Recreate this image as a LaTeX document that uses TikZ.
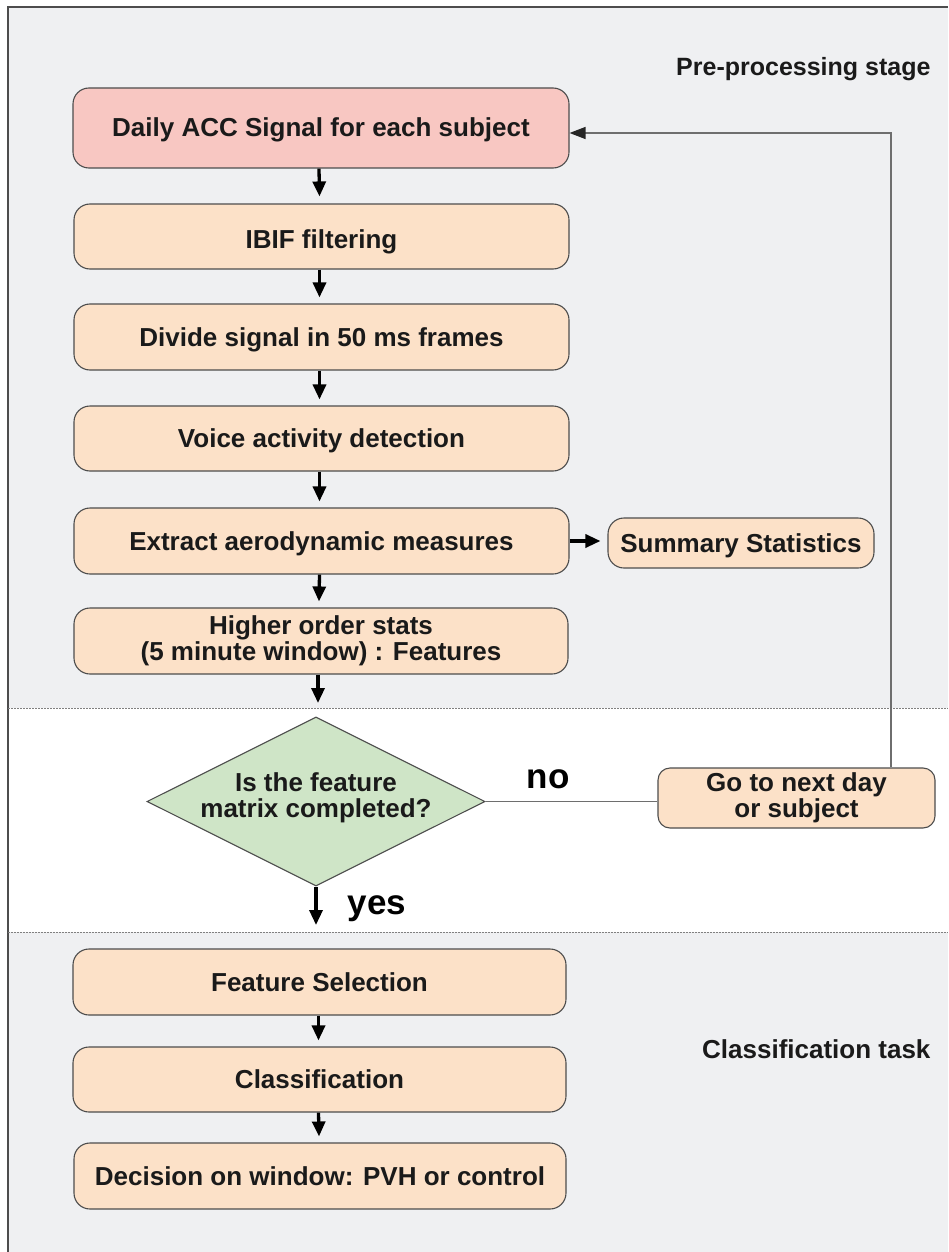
\documentclass[tikz,border=0pt]{standalone}
\usepackage{fontspec}
\setmainfont{Liberation Sans}
\usetikzlibrary{arrows.meta,shapes.geometric}
\definecolor{bgcol}{HTML}{EFF0F2}
\definecolor{peach}{HTML}{FCE1C8}
\definecolor{pinkbox}{HTML}{F8C7C2}
\definecolor{greendia}{HTML}{CFE5C7}
\definecolor{txtcol}{HTML}{1A1A1A}
\definecolor{edgecol}{HTML}{4D4D4D}
\definecolor{fbcol}{HTML}{6E6E6E}
\tikzset{
  boxbase/.style={draw=edgecol, line width=1.1pt, rounded corners=16pt, align=center,
    text=txtcol, inner sep=0pt, font=\bfseries\fontsize{26}{26}\selectfont},
  procbox/.style={boxbase, fill=peach},
  startbox/.style={boxbase, fill=pinkbox},
  oneline/.style={text height=20pt, text depth=2pt},
  lowline/.style={text height=24pt, text depth=1pt},
  decbox/.style={draw=edgecol, line width=1.1pt, fill=greendia, shape=diamond,
    inner sep=0pt, minimum width=338pt, minimum height=169pt},
  dectext/.style={align=center, text=txtcol, inner sep=0pt, font=\bfseries\fontsize{26}{26}\selectfont},
  flowarrow/.style={line width=3.3pt, black, -{Triangle[length=15pt,width=13pt]}},
  fbline/.style={line width=1.3pt, fbcol},
  fbarrow/.style={line width=1.3pt, draw=fbcol, -{Triangle[length=16pt,width=12pt,color=black!85,fill=black!85]}},
  sepline/.style={line width=1pt, gray, dash pattern=on 1.5pt off 1.5pt},
  stagelabel/.style={anchor=east, text=txtcol, font=\bfseries\fontsize{25}{25}\selectfont},
  answerlabel/.style={text=black, font=\bfseries\fontsize{35}{35}\selectfont}
}
\begin{document}
\begin{tikzpicture}[x=1pt,y=-1pt]
\useasboundingbox (0,0) rectangle (948,1252);
% backgrounds
\fill[bgcol] (8,7) rectangle (948,708);
\fill[white] (8,708) rectangle (948,932);
\fill[bgcol] (8,932) rectangle (948,1252);
\draw[line width=1.2pt, edgecol] (8,1252) -- (8,7) -- (948,7);
\draw[sepline] (8,708) -- (948,708);
\draw[sepline] (8,932) -- (948,932);

% stage labels
\node[stagelabel] (prelabel) at (934,69) {Pre-processing stage};
\node[stagelabel, font=\bfseries\fontsize{26}{26}\selectfont] (classlabel) at (934,1049) {Classification task};

% boxes
\node[startbox, oneline, minimum width=496pt, minimum height=80pt] (daily) at (321,128) {Daily ACC Signal for each subject};
\node[procbox, lowline, minimum width=495pt, minimum height=65pt] (ibif) at (321.5,236.5) {IBIF filtering};
\node[procbox, oneline, minimum width=495pt, minimum height=66pt] (divide) at (321.5,337) {Divide signal in 50 ms frames};
\node[procbox, oneline, minimum width=495pt, minimum height=65pt] (voice) at (321.5,438.5) {Voice activity detection};
\node[procbox, oneline, minimum width=495pt, minimum height=66pt] (extract) at (321.5,541) {Extract aerodynamic measures};
\node[procbox, minimum width=494pt, minimum height=66pt] (higher) at (321,641) {Higher order stats\\(5 minute window) : Features};
\node[procbox, oneline, minimum width=266pt, minimum height=50pt] (summary) at (741,543) {Summary Statistics};
\node[decbox] (decide) at (316,801.5) {};
\node[dectext] (decidetext) at (316,798) {Is the feature\\matrix completed?};
\node[procbox, minimum width=277pt, minimum height=60pt, rounded corners=12pt] (goto) at (796.5,798) {Go to next day\\or subject};
\node[procbox, oneline, minimum width=493pt, minimum height=66pt] (featsel) at (319.5,982) {Feature Selection};
\node[procbox, oneline, minimum width=493pt, minimum height=65pt] (classif) at (319.5,1079.5) {Classification};
\node[procbox, oneline, minimum width=492pt, minimum height=66pt] (decision) at (320,1176) {Decision on window: PVH or control};

% answer labels
\node[answerlabel] (nolabel) at (548,779) {no};
\node[answerlabel] (yeslabel) at (377,909) {yes};

% flow arrows
\draw[flowarrow] ([xshift=-2pt]daily.south) -- ([xshift=-2pt,yshift=7pt]ibif.north);
\draw[flowarrow] ([xshift=-2pt]ibif.south) -- ([xshift=-2pt,yshift=6pt]divide.north);
\draw[flowarrow] ([xshift=-2pt]divide.south) -- ([xshift=-2pt,yshift=6pt]voice.north);
\draw[flowarrow] ([xshift=-2pt]voice.south) -- ([xshift=-2pt,yshift=6pt]extract.north);
\draw[flowarrow] ([xshift=-2pt]extract.south) -- ([xshift=-2pt,yshift=6pt]higher.north);
\draw[flowarrow] (extract.east) -- ([xshift=-7pt]summary.west |- extract.east);
\coordinate (afterhigher) at (318,703);
\draw[flowarrow] ([xshift=-3pt]higher.south) -- (afterhigher);
\coordinate (afteryes) at (316,925);
\draw[flowarrow] (decide.south) -- (afteryes);
\draw[flowarrow] ([xshift=-1pt]featsel.south) -- ([xshift=-1pt,yshift=6pt]classif.north);
\draw[flowarrow] ([xshift=-1pt]classif.south) -- ([xshift=-1pt,yshift=6pt]decision.north);

% feedback loop
\draw[fbline] (decide.east) -- (decide.east -| goto.west);
\coordinate (fbcorner) at (891,133);
\draw[fbarrow] (goto.north -| fbcorner) -- (fbcorner) -- (daily.east |- fbcorner);
\end{tikzpicture}
\end{document}
